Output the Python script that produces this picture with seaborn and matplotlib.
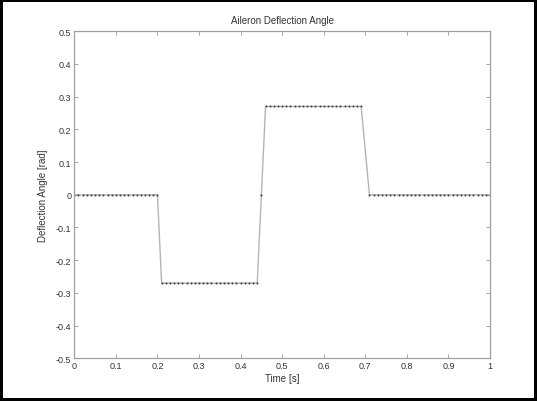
import matplotlib
matplotlib.use("Agg")
import matplotlib.pyplot as plt
import seaborn as sns
import pandas as pd

sns.set_theme(style="white")
plt.rcParams['font.family'] = ['Liberation Sans', 'DejaVu Sans']

time_s = [0.00, 0.01, 0.02, 0.03, 0.04, 0.05, 0.06, 0.07, 0.08, 0.09,
          0.10, 0.11, 0.12, 0.13, 0.14, 0.15, 0.16, 0.17, 0.18, 0.19,
          0.20, 0.21, 0.22, 0.23, 0.24, 0.25, 0.26, 0.27, 0.28, 0.29,
          0.30, 0.31, 0.32, 0.33, 0.34, 0.35, 0.36, 0.37, 0.38, 0.39,
          0.40, 0.41, 0.42, 0.43, 0.44, 0.45, 0.46, 0.47, 0.48, 0.49,
          0.50, 0.51, 0.52, 0.53, 0.54, 0.55, 0.56, 0.57, 0.58, 0.59,
          0.60, 0.61, 0.62, 0.63, 0.64, 0.65, 0.66, 0.67, 0.68, 0.69,
          0.71, 0.72, 0.73, 0.74, 0.75, 0.76, 0.77, 0.78, 0.79,
          0.80, 0.81, 0.82, 0.83, 0.84, 0.85, 0.86, 0.87, 0.88, 0.89,
          0.90, 0.91, 0.92, 0.93, 0.94, 0.95, 0.96, 0.97, 0.98, 0.99, 1.00]

deflection = [0.0, 0.0, 0.0, 0.0, 0.0, 0.0, 0.0, 0.0, 0.0, 0.0,
              0.0, 0.0, 0.0, 0.0, 0.0, 0.0, 0.0, 0.0, 0.0, 0.0,
              0.0, -0.27, -0.27, -0.27, -0.27, -0.27, -0.27, -0.27, -0.27, -0.27,
              -0.27, -0.27, -0.27, -0.27, -0.27, -0.27, -0.27, -0.27, -0.27, -0.27,
              -0.27, -0.27, -0.27, -0.27, -0.27, 0.0, 0.27, 0.27, 0.27, 0.27,
              0.27, 0.27, 0.27, 0.27, 0.27, 0.27, 0.27, 0.27, 0.27, 0.27,
              0.27, 0.27, 0.27, 0.27, 0.27, 0.27, 0.27, 0.27, 0.27, 0.27,
              0.0, 0.0, 0.0, 0.0, 0.0, 0.0, 0.0, 0.0, 0.0,
              0.0, 0.0, 0.0, 0.0, 0.0, 0.0, 0.0, 0.0, 0.0, 0.0,
              0.0, 0.0, 0.0, 0.0, 0.0, 0.0, 0.0, 0.0, 0.0, 0.0, 0.0]

x_ticks = [0, 0.1, 0.2, 0.3, 0.4, 0.5, 0.6, 0.7, 0.8, 0.9, 1]
x_tick_labels = ['0', '0.1', '0.2', '0.3', '0.4', '0.5', '0.6', '0.7', '0.8', '0.9', '1']
y_ticks = [-0.5, -0.4, -0.3, -0.2, -0.1, 0, 0.1, 0.2, 0.3, 0.4, 0.5]
y_tick_labels = ['-0.5', '-0.4', '-0.3', '-0.2', '-0.1', '0', '0.1', '0.2', '0.3', '0.4', '0.5']

df = pd.DataFrame({'t': time_s, 'd': deflection})

fig = plt.figure(figsize=(5.37, 4.02), dpi=100, facecolor='white',
                 edgecolor='black', linewidth=3)
ax = fig.add_axes([0.1384, 0.1062, 0.9125 - 0.1384, 0.9197 - 0.1062])

sns.lineplot(data=df, x='t', y='d', ax=ax, estimator=None, sort=False,
             color='#b4b4b4', linewidth=1.0, marker='.', markersize=2.4,
             markerfacecolor='#444444', markeredgecolor='#444444',
             markeredgewidth=0.2)

ax.set_xlim(0, 1)
ax.set_ylim(-0.5, 0.5)
ax.set_xticks(x_ticks)
ax.set_xticklabels(x_tick_labels)
ax.set_yticks(y_ticks)
ax.set_yticklabels(y_tick_labels)
ax.tick_params(direction='in', length=3, width=0.6, color='#999999',
               top=True, right=True, bottom=True, left=True,
               labelsize=6.5, labelcolor='#333333', pad=2)
for s in ax.spines.values():
    s.set_color('#a0a0a0')
    s.set_linewidth(0.9)

ax.set_title('Aileron Deflection Angle', fontsize=7, color='#333333', pad=6)
ax.set_xlabel('Time [s]', fontsize=7, color='#333333', labelpad=2)
ax.set_ylabel('Deflection Angle [rad]', fontsize=7, color='#333333', labelpad=6)
ax.grid(False)

fig.savefig('out.png', dpi=100, facecolor='white', edgecolor=fig.get_edgecolor())
